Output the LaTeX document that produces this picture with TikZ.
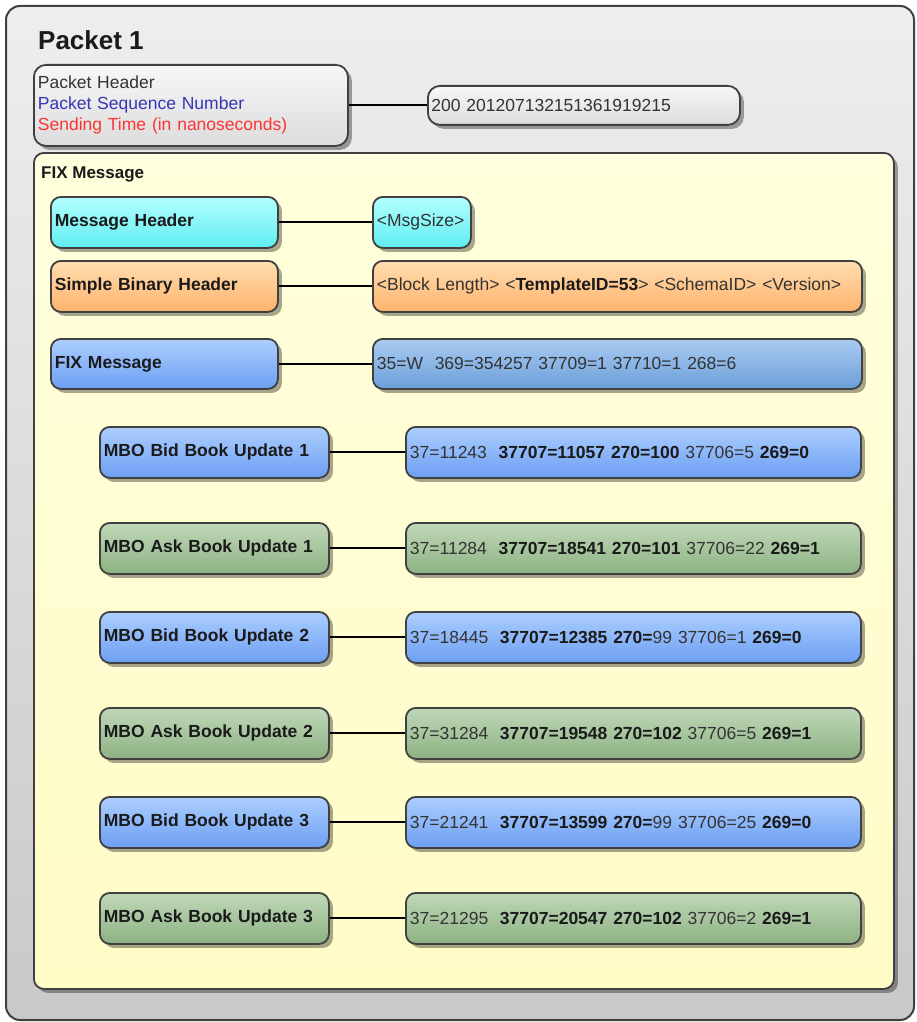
\documentclass[tikz,border=0pt]{standalone}
\usepackage{fontspec}
\setmainfont{Liberation Sans}
\usetikzlibrary{shadows}
\definecolor{boxline}{HTML}{404040}
\definecolor{txt}{HTML}{333333}
\definecolor{txtb}{HTML}{1A1A1A}
\definecolor{seqblue}{HTML}{3535B5}
\definecolor{sendred}{HTML}{FF3333}
\definecolor{pkttop}{HTML}{EEEEEE}
\definecolor{pktbot}{HTML}{C9C9C9}
\definecolor{fixtop}{HTML}{FFFFDD}
\definecolor{fixbot}{HTML}{FFFCC6}
\definecolor{graytop}{HTML}{F7F7F7}
\definecolor{graybot}{HTML}{DCDCDC}
\definecolor{cyantop}{HTML}{B4FFFF}
\definecolor{cyanbot}{HTML}{5EEDF0}
\definecolor{orgtop}{HTML}{FFDDB0}
\definecolor{orgbot}{HTML}{FFB36C}
\definecolor{bluetop}{HTML}{ADCFFF}
\definecolor{bluebot}{HTML}{6C9EF2}
\definecolor{fbluetop}{HTML}{AACBF2}
\definecolor{fbluebot}{HTML}{6B9FD8}
\definecolor{grntop}{HTML}{C0D8B8}
\definecolor{grnbot}{HTML}{8DB283}
\newcommand{\fs}{\fontsize{17.5}{20.5}\selectfont}
\tikzset{
  shad/.style={drop shadow={shadow xshift=4pt, shadow yshift=-4pt, opacity=0.35, fill=black}},
  base/.style={draw=boxline, line width=1.8pt, rounded corners=10pt, shad,
    inner xsep=4pt, inner ysep=0pt, anchor=north west, font=\fs, align=left, text=txt},
  cyanbox/.style={base, top color=cyantop, bottom color=cyanbot},
  orgbox/.style={base, top color=orgtop, bottom color=orgbot},
  bluebox/.style={base, top color=bluetop, bottom color=bluebot},
  fbluebox/.style={base, top color=fbluetop, bottom color=fbluebot},
  grnbox/.style={base, top color=grntop, bottom color=grnbot},
  graybox/.style={base, top color=graytop, bottom color=graybot},
  lefttop/.style={minimum width=227pt, text width=219pt, minimum height=51pt},
  leftmbo/.style={minimum width=229pt, text width=221pt, minimum height=51pt},
  rightwide/.style={minimum width=489pt, text width=481pt, minimum height=51pt},
  rightmbo/.style={minimum width=455pt, text width=447pt, minimum height=51pt},
  conn/.style={draw=black, line width=2pt},
}
\begin{document}
\begin{tikzpicture}[x=1pt,y=-1pt]
\useasboundingbox (0,0) rectangle (916,1022);
% outer packet
\node[draw=boxline, line width=2pt, rounded corners=14pt, top color=pkttop, bottom color=pktbot,
  minimum width=908pt, minimum height=1014pt, anchor=north west, inner sep=0pt] (packet) at (5,5) {};
\node[anchor=west, font=\fontsize{26}{30}\selectfont\bfseries, text=txtb, inner sep=0pt] (ptitle) at (38,40) {Packet 1};
% packet header
\node[graybox, rounded corners=12pt, minimum width=314pt, text width=306pt, minimum height=81pt] (phdr) at (33,64)
  {Packet Header\\[0.5pt]\textcolor{seqblue}{Packet Sequence Number}\\[0.5pt]\textcolor{sendred}{Sending Time (in nanoseconds)}};
\node[graybox, rounded corners=12pt, minimum width=312pt, text width=305pt, minimum height=39pt, inner xsep=3pt] (pval) at (427,85)
  {200 201207132151361919215};
\draw[conn] (phdr.east) -- (phdr.east -| pval.west);
% FIX message container
\node[draw=boxline, line width=1.8pt, rounded corners=10pt, top color=fixtop, bottom color=fixbot, shad,
  minimum width=860pt, minimum height=836pt, anchor=north west, inner sep=0pt] (fix) at (33,152) {};
\node[anchor=west, font=\fontsize{17}{20}\selectfont\bfseries, text=txtb, inner sep=0pt] (fixlbl) at (41,174) {FIX Message};
% header rows
\node[cyanbox, lefttop] (mh) at (50,196) {\textcolor{txtb}{\bfseries Message Header}};
\node[cyanbox, minimum width=98pt, text width=90pt, minimum height=51pt] (mhv) at (372,196) {<MsgSize>};
\draw[conn] (mh.east) -- (mhv.west);
\node[orgbox, lefttop] (sbh) at (50,260) {\textcolor{txtb}{\bfseries Simple Binary Header}};
\node[orgbox, rightwide] (sbhv) at (372,260) {<Block Length> <\textcolor{txtb}{\bfseries TemplateID=53}> <SchemaID> <Version>};
\draw[conn] (sbh.east) -- (sbhv.west);
\node[bluebox, lefttop, minimum height=50pt] (fm) at (50,338) {\textcolor{txtb}{\bfseries FIX Message}};
\node[fbluebox, rightwide, minimum height=50pt] (fmv) at (372,338) {35=W\ \ 369=354257 37709=1 37710=1 268=6};
\draw[conn] (fm.east) -- (fmv.west);
% MBO rows
\node[bluebox, leftmbo] (b1) at (99,426) {\textcolor{txtb}{\bfseries MBO Bid Book Update 1}};
\node[bluebox, rightmbo] (b1v) at (405,426) {37=11243\ \ \textcolor{txtb}{\bfseries 37707=11057 270=100} 37706=5 \textcolor{txtb}{\bfseries 269=0}};
\draw[conn] (b1.east) -- (b1v.west);
\node[grnbox, leftmbo] (a1) at (99,522) {\textcolor{txtb}{\bfseries MBO Ask Book Update 1}};
\node[grnbox, rightmbo] (a1v) at (405,522) {37=11284\ \ \textcolor{txtb}{\bfseries 37707=18541 270=101} 37706=22 \textcolor{txtb}{\bfseries 269=1}};
\draw[conn] (a1.east) -- (a1v.west);
\node[bluebox, leftmbo] (b2) at (99,611) {\textcolor{txtb}{\bfseries MBO Bid Book Update 2}};
\node[bluebox, rightmbo] (b2v) at (405,611) {37=18445\ \ \textcolor{txtb}{\bfseries 37707=12385 270=}99 37706=1 \textcolor{txtb}{\bfseries 269=0}};
\draw[conn] (b2.east) -- (b2v.west);
\node[grnbox, leftmbo] (a2) at (99,707) {\textcolor{txtb}{\bfseries MBO Ask Book Update 2}};
\node[grnbox, rightmbo] (a2v) at (405,707) {37=31284\ \ \textcolor{txtb}{\bfseries 37707=19548 270=102} 37706=5 \textcolor{txtb}{\bfseries 269=1}};
\draw[conn] (a2.east) -- (a2v.west);
\node[bluebox, leftmbo] (b3) at (99,796) {\textcolor{txtb}{\bfseries MBO Bid Book Update 3}};
\node[bluebox, rightmbo] (b3v) at (405,796) {37=21241\ \ \textcolor{txtb}{\bfseries 37707=13599 270=}99 37706=25 \textcolor{txtb}{\bfseries 269=0}};
\draw[conn] (b3.east) -- (b3v.west);
\node[grnbox, leftmbo] (a3) at (99,892) {\textcolor{txtb}{\bfseries MBO Ask Book Update 3}};
\node[grnbox, rightmbo] (a3v) at (405,892) {37=21295\ \ \textcolor{txtb}{\bfseries 37707=20547 270=102} 37706=2 \textcolor{txtb}{\bfseries 269=1}};
\draw[conn] (a3.east) -- (a3v.west);
\end{tikzpicture}
\end{document}
